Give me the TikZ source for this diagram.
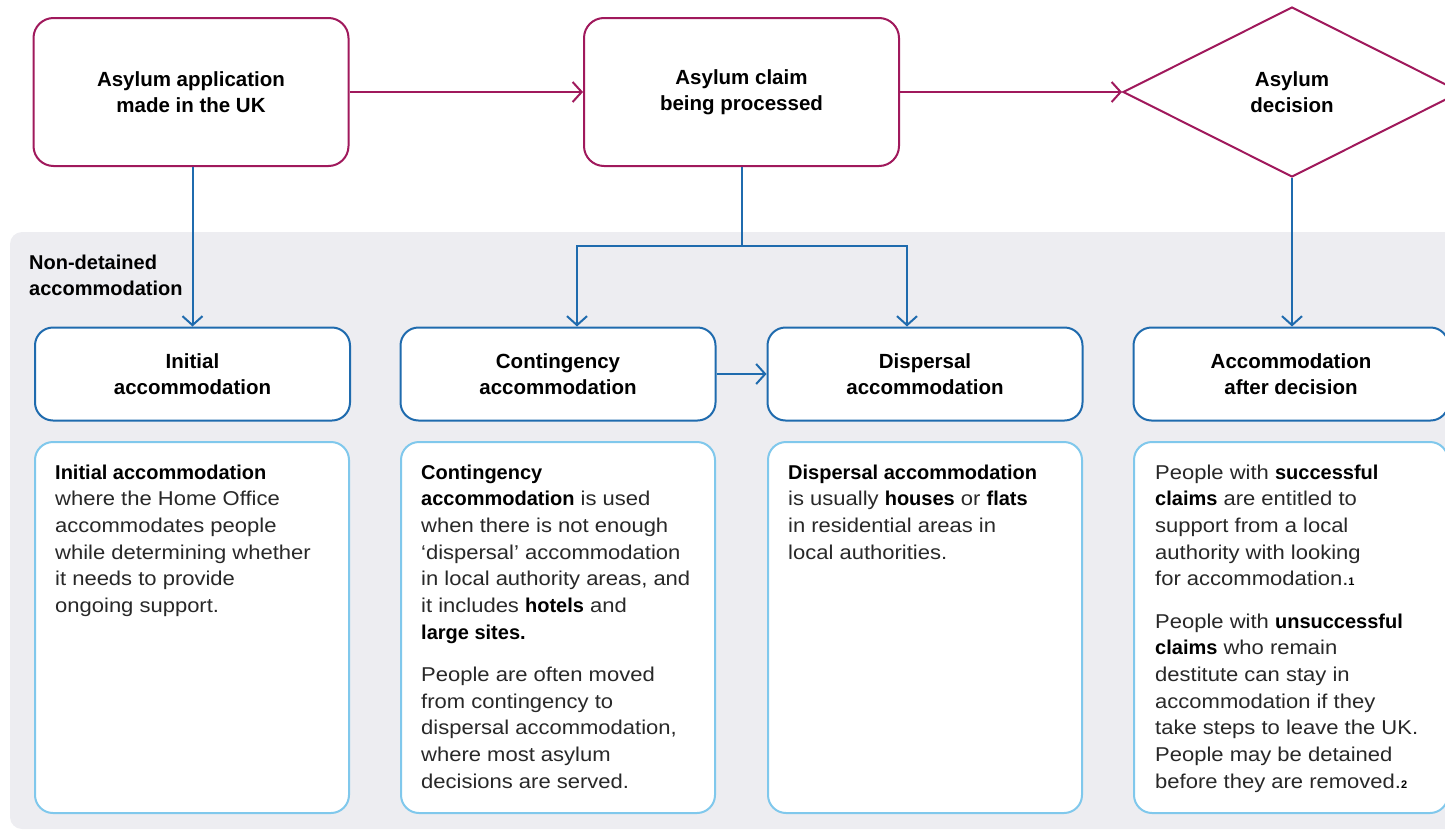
\documentclass[tikz,border=0pt]{standalone}
\usepackage{fontspec}
\setmainfont{Liberation Sans}
\newfontfamily\bodyfont[FakeStretch=1.1]{Liberation Sans}
\usetikzlibrary{arrows.meta,shapes.geometric}
\definecolor{mag}{HTML}{A0195C}
\definecolor{dblue}{HTML}{1F6BAE}
\definecolor{lblue}{HTML}{80C8EC}
\definecolor{bgc}{HTML}{EDEDF1}
\definecolor{bodyc}{HTML}{282828}
\newcommand\hb[1]{{\normalfont\bfseries\fontsize{20}{26.7}\selectfont\color{black}#1}}
\newcommand\fnmark[1]{{\normalfont\bfseries\fontsize{11}{11}\selectfont\color{black}#1}}
\newcommand\headfont{\fontsize{20.5}{26}\selectfont\bfseries}
\begin{document}
\begin{tikzpicture}[x=1pt,y=-1pt,
  topbox/.style={draw=mag, line width=2pt, rounded corners=20pt, minimum width=315pt, minimum height=148pt, fill=white, align=center, font=\headfont, text=black, inner sep=0pt},
  decbox/.style={diamond, aspect=2, draw=mag, line width=2pt, minimum width=338pt, minimum height=170pt, inner sep=0pt, fill=white, align=center, font=\headfont, text=black},
  accbox/.style={draw=dblue, line width=2pt, rounded corners=18pt, minimum width=315pt, minimum height=93pt, fill=white, align=center, font=\headfont, text=black, inner sep=0pt},
  txtbox/.style={draw=lblue, line width=2pt, rounded corners=18pt, minimum width=314pt, minimum height=371pt, fill=white, inner sep=0pt},
  bodytxt/.style={anchor=base west, inner sep=0pt, font=\bodyfont\fontsize{20}{26.7}\selectfont, text=bodyc},
  marr/.style={draw=mag, line width=2pt, -{Straight Barb[length=9pt,width=20pt]}},
  barr/.style={draw=dblue, line width=2pt, -{Straight Barb[length=9pt,width=20pt]}},
  bline/.style={draw=dblue, line width=2pt}
]
\path[use as bounding box, clip] (0,0) rectangle (1445,830);

% background
\fill[bgc, rounded corners=12pt] (10,232) rectangle (1470,829);
\node[anchor=base west, inner sep=0pt, font=\fontsize{20}{26.7}\selectfont\bfseries, text=black] (nd) at (29,269)
  {\parbox[t]{200pt}{\raggedright Non-detained\\accommodation}};

% top row
\node[topbox] (a) at (191,92) {Asylum application\\made in the UK};
\node[topbox] (b) at (741.5,92) {Asylum claim\\being processed};
\node[decbox] (d) at (1292,92) {Asylum\\decision};

% accommodation boxes
\node[accbox] (i) at (192.5,374) {Initial\\accommodation};
\node[accbox] (c) at (558,374) {Contingency\\accommodation};
\node[accbox] (p) at (925,374) {Dispersal\\accommodation};
\node[accbox] (x) at (1291,374) {Accommodation\\after decision};

% text boxes
\node[txtbox] (ti) at (192,627.5) {};
\node[txtbox] (tc) at (558,627.5) {};
\node[txtbox] (tp) at (925,627.5) {};
\node[txtbox] (tx) at (1291,627.5) {};

\node[bodytxt] (ti1) at (55,479) {\parbox[t]{300pt}{\raggedright\leavevmode
\hb{Initial accommodation}\\
where the Home Office\\
accommodates people\\
while determining whether\\
it needs to provide\\
ongoing support.}};

\node[bodytxt] (tc1) at (421,479) {\parbox[t]{300pt}{\raggedright\setlength{\parskip}{15.5pt}\leavevmode
\hb{Contingency}\\
\hb{accommodation} is used\\
when there is not enough\\
‘dispersal’ accommodation\\
in local authority areas, and\\
it includes \hb{hotels} and\\
\hb{large sites.}\par
People are often moved\\
from contingency to\\
dispersal accommodation,\\
where most asylum\\
decisions are served.}};

\node[bodytxt] (tp1) at (788,479) {\parbox[t]{300pt}{\raggedright\leavevmode
\hb{Dispersal accommodation}\\
is usually \hb{houses} or \hb{flats}\\
in residential areas in\\
local authorities.}};

\node[bodytxt] (tx1) at (1155,479) {\parbox[t]{300pt}{\raggedright\setlength{\parskip}{15.5pt}\leavevmode
People with \hb{successful}\\
\hb{claims} are entitled to\\
support from a local\\
authority with looking\\
for accommodation.\fnmark{1}\par
People with \hb{unsuccessful}\\
\hb{claims} who remain\\
destitute can stay in\\
accommodation if they\\
take steps to leave the UK.\\
People may be detained\\
before they are removed.\fnmark{2}}};

% connectors
\draw[marr] (a.east) -- (b.west);
\draw[marr] (b.east) -- (d.west);
\draw[barr] (a.south -| i.north) -- (i.north);
\coordinate (split) at (741.5,246);
\draw[bline] (b.south) -- (split);
\draw[barr] (split) -| ([xshift=19pt]c.north);
\draw[barr] (split) -| ([xshift=-18pt]p.north);
\draw[barr] (d.south) -- (d.south |- x.north);
\draw[barr] (c.east) -- (p.west);
\end{tikzpicture}
\end{document}
